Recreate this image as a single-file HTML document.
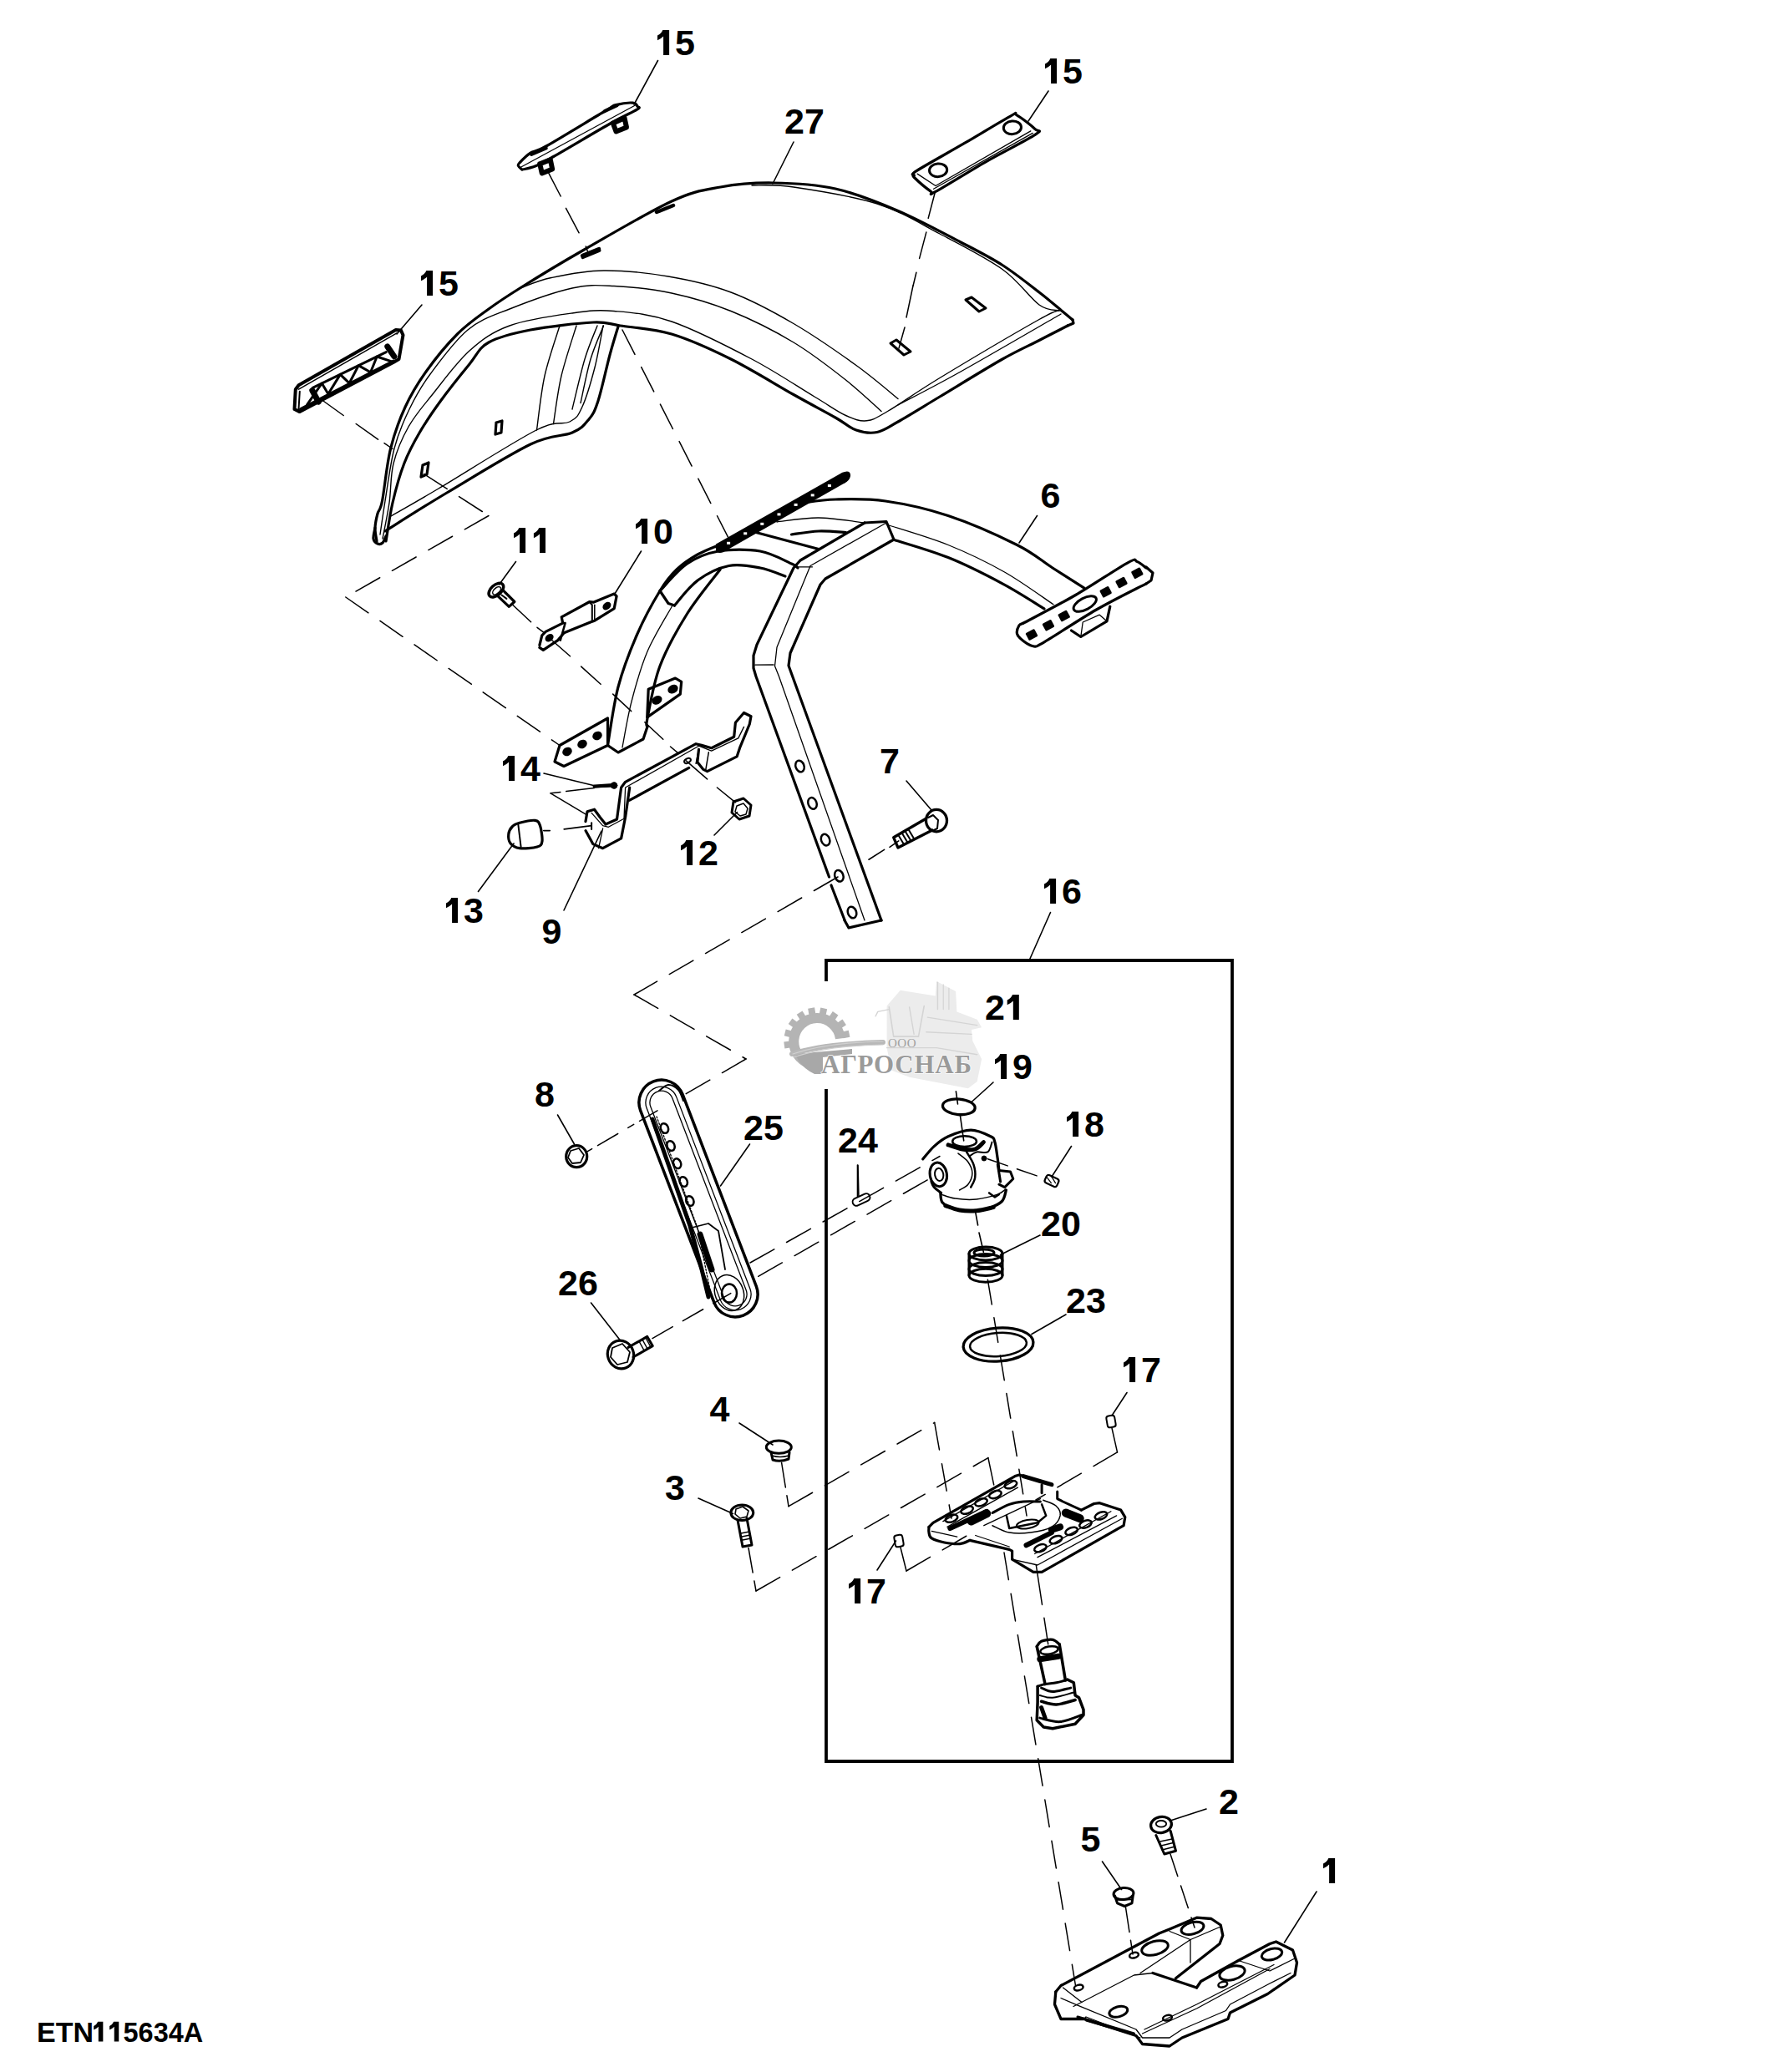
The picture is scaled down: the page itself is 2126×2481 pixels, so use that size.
<!DOCTYPE html>
<html><head><meta charset="utf-8">
<style>
html,body{margin:0;padding:0;background:#fff;}
body{width:2126px;height:2481px;overflow:hidden;position:relative;}
svg{position:absolute;left:0;top:0;}
.lb text{font-family:"Liberation Sans",sans-serif;font-weight:bold;font-size:43px;fill:#000;}
</style></head><body>
<svg width="2126" height="2481" viewBox="0 0 2126 2481">
<g fill="none" stroke="#000" stroke-linecap="round" stroke-linejoin="round">
<path d="M989 1173 V1150 H1475 V2109 H989 V1306" stroke-width="3.8" stroke-linecap="square" stroke-linejoin="miter"/>
<path d="M787.5 72.5 L759 125" stroke-width="1.6"/>
<path d="M950 170 L925 220" stroke-width="1.6"/>
<path d="M505 365 L475 400" stroke-width="1.6"/>
<path d="M617.5 672.5 L597.5 700" stroke-width="1.6"/>
<path d="M767.5 660 L735 712.5" stroke-width="1.6"/>
<path d="M1255 109 L1231 145" stroke-width="1.6"/>
<path d="M1241.5 617.5 L1220 650" stroke-width="1.6"/>
<path d="M651 926 L712.5 941" stroke-width="1.6"/>
<path d="M1085 935 L1115 970" stroke-width="1.6"/>
<path d="M855 1000 L882.5 972.5" stroke-width="1.6"/>
<path d="M572.5 1067.5 L615 1010" stroke-width="1.6"/>
<path d="M675 1090 L720 995" stroke-width="1.6"/>
<path d="M897.5 1370 L862.5 1420" stroke-width="1.6"/>
<path d="M667.5 1335 L687.5 1370" stroke-width="1.6"/>
<path d="M1257.5 1092.5 L1232.5 1149" stroke-width="1.6"/>
<path d="M1189 1296 L1162.5 1320" stroke-width="1.6"/>
<path d="M1282.5 1372.5 L1259 1409" stroke-width="1.6"/>
<path d="M1026.5 1395 L1026.5 1432.5" stroke-width="1.6"/>
<path d="M1245 1479 L1197.5 1502.5" stroke-width="1.6"/>
<path d="M1276 1574 L1235 1597.5" stroke-width="1.6"/>
<path d="M1349 1667.5 L1331 1695" stroke-width="1.6"/>
<path d="M1050 1880 L1072.5 1845" stroke-width="1.6"/>
<path d="M707.5 1560 L742.5 1605" stroke-width="1.6"/>
<path d="M885 1704 L925 1730" stroke-width="1.6"/>
<path d="M836 1794 L877.5 1812.5" stroke-width="1.6"/>
<path d="M1444 2166 L1401 2180" stroke-width="1.6"/>
<path d="M1319.5 2229 L1342.5 2262.5" stroke-width="1.6"/>
<path d="M1576 2265 L1537.5 2326" stroke-width="1.6"/>
<path d="M451 648 C450.7 645.3 448.8 637.5 449 632 C449.2 626.5 450.6 620.3 452 615 C453.4 609.7 454.9 612.9 457.5 600 C460.1 587.1 462.9 556.2 467.5 537.5 C472.1 518.8 477.9 502.9 485 487.5 C492.1 472.1 499.6 459.6 510 445 C520.4 430.4 535 412.5 547.5 400 C560 387.5 572.5 379.2 585 370 C597.5 360.8 603.8 356.7 622.5 345 C641.2 333.3 667.2 317.3 697.5 300 C727.8 282.7 776.5 253.7 804 241 C831.5 228.3 842.3 227.7 862.5 224 C882.7 220.3 902.1 218.7 925 219 C947.9 219.3 975 220.4 1000 226 C1025 231.6 1050 241.8 1075 252.5 C1100 263.2 1129.2 279.2 1150 290 C1170.8 300.8 1184.3 307.5 1200 317.5 C1215.7 327.5 1232 340.8 1244 350 C1256 359.2 1265.3 367.5 1272 373 C1278.7 378.5 1282 381.3 1284 383" stroke-width="3.2"/>
<path d="M1284 383 L1285 387 L1278 390" stroke-width="3.2"/>
<path d="M462 648 C463.3 640.3 466.4 617.5 470 602 C473.6 586.5 478.3 569.1 483.8 555 C489.2 540.9 495.2 530 502.5 517.5 C509.8 505 517.6 493.6 527.5 480 C537.4 466.4 552.4 447.7 562 436 C571.6 424.3 572.8 416.8 585 410 C597.2 403.2 614.2 399 635 395 C655.8 391 692.1 386.8 710 386 C727.9 385.2 726.8 387.7 742.5 390 C758.2 392.3 781.9 393.3 804 400 C826.1 406.7 850.7 417.9 875 430 C899.3 442.1 929.2 460.8 950 472.5 C970.8 484.2 987.5 492.9 1000 500 C1012.5 507.1 1016.7 512.1 1025 515 C1033.3 517.9 1041.7 519.2 1050 517.5 C1058.3 515.8 1062.5 512.1 1075 505 C1087.5 497.9 1104.2 487.5 1125 475 C1145.8 462.5 1180.2 441.2 1200 430 C1219.8 418.8 1231 414.2 1244 407.5 C1257 400.8 1272.3 392.9 1278 390" stroke-width="3.2"/>
<path d="M449 632 C448.7 634.2 446.5 641.8 447 645 C447.5 648.2 450.2 650.2 452 651 C453.8 651.8 456.3 651.5 458 650 C459.7 648.5 461.3 643.3 462 642" stroke-width="3.2"/>
<path d="M622.5 345 C628.8 342.9 643.3 336 660 332.5 C676.7 329 699.2 324.2 722.5 324 C745.8 323.8 774.6 326.7 800 331 C825.4 335.3 850 340.6 875 350 C900 359.4 925 372.9 950 387.5 C975 402.1 1004.2 422.5 1025 437.5 C1045.8 452.5 1066.7 470.8 1075 477.5" stroke-width="1.4"/>
<path d="M455 640 C456 633.3 458.2 617.2 461 600 C463.8 582.8 467.2 555.3 472 537 C476.8 518.7 482.8 504.8 490 490 C497.2 475.2 503.3 463.8 515 448 C526.7 432.2 544.2 408 560 395 C575.8 382 589.2 378.3 610 370 C630.8 361.7 664.2 349.6 685 345 C705.8 340.4 715.2 341.5 735 342.5 C754.8 343.5 780.7 346 804 351 C827.3 356 850.7 362.7 875 372.5 C899.3 382.3 927.1 396.2 950 410 C972.9 423.8 995 441.2 1012.5 455 C1030 468.8 1047.9 486.2 1055 492.5" stroke-width="1.4"/>
<path d="M458 645 C459.3 637.8 463.8 617 466 602 C468.2 587 467.2 570.2 471 555 C474.8 539.8 481.2 524.8 489 511 C496.8 497.2 505.3 487.7 517.5 472.5 C529.7 457.3 546.6 433.8 562 420 C577.4 406.2 589.5 397.5 610 390 C630.5 382.5 664.2 377.9 685 375 C705.8 372.1 715.2 370.8 735 372.5 C754.8 374.2 776.5 375.4 804 385 C831.5 394.6 871.5 415 900 430 C928.5 445 956.2 463.8 975 475 C993.8 486.2 1002.1 492.7 1012.5 497.5 C1022.9 502.3 1029.2 504.6 1037.5 503.8 C1045.8 502.9 1047.9 501 1062.5 492.5 C1077.1 484 1094.8 470.8 1125 452.5 C1155.2 434.2 1219.8 396.1 1244 382.5 C1268.2 368.9 1265.7 372.9 1270 371" stroke-width="1.4"/>
<path d="M900 222 C908.3 222.3 925 220.3 950 224 C975 227.7 1020.8 234.7 1050 244 C1079.2 253.3 1100 266.9 1125 280 C1150 293.1 1180.2 308.3 1200 322.5 C1219.8 336.7 1232.7 356.8 1244 365 C1255.3 373.2 1264 370.8 1268 372" stroke-width="1.4"/>
<path d="M1270 376 C1250 387.5 1182.5 426.8 1150 445 C1117.5 463.2 1087.5 478.3 1075 485" stroke-width="1.4"/>
<path d="M461 636 C473.3 628.3 506 607.3 535 590 C564 572.7 610 544 635 532 C660 520 673.3 523 685 518 C696.7 513 699.8 508.3 705 502 C710.2 495.7 711.8 492.8 716 480 C720.2 467.2 726 439.8 730 425 C734 410.2 738.3 396.7 740 391" stroke-width="3.2"/>
<path d="M468 618 C477.5 612.5 496 602.2 525 585 C554 567.8 615.8 528.3 642 515 C668.2 501.7 672.8 509.7 682 505 C691.2 500.3 692 497.8 697 487 C702 476.2 707.8 456.2 712 440 C716.2 423.8 720.3 398.3 722 390" stroke-width="1.4"/>
<path d="M642.5 515 C644.1 504.2 647.4 470.8 652 450 C656.6 429.2 667 400 670 390" stroke-width="1.4"/>
<path d="M662.5 507.5 C664.1 497.9 667.4 469.6 672 450 C676.6 430.4 687 400 690 390" stroke-width="1.4"/>
<path d="M685 490 C687.5 480 695 446.7 700 430 C705 413.3 712.5 396.7 715 390" stroke-width="1.4"/>
<path d="M695 482.5 C697 473.8 702.4 445.4 707 430 C711.6 414.6 719.9 396.7 722.5 390" stroke-width="1.4"/>
<path d="M594 506 L601 504 L600 518 L593 520 L594 506" stroke-width="3.2"/>
<path d="M506 557 L513 554 L511 568 L504 571 L506 557" stroke-width="3.2"/>
<path d="M1066 411 L1073 407 L1090 421 L1082 425 L1066 411" stroke-width="3"/>
<path d="M1156 359 L1163 356 L1180 369 L1172 373 L1156 359" stroke-width="3"/>
<path d="M697 306 L717 298" stroke-width="4.5"/>
<path d="M786 254 L806 246" stroke-width="4.5"/>
<path d="M625 203.1 C624.3 202.4 621.1 200.1 620.6 198.8 C620.1 197.4 619.5 197.6 621.9 195 C624.3 192.4 629.7 186.5 635 183.1 C640.3 179.8 638.8 183.4 653.8 175 C668.8 166.6 711 140.7 725 132.5 C739 124.3 732.1 127.2 737.5 125.6 C742.9 124.1 753.2 122.8 757.5 123.1 C761.8 123.4 762.3 126.1 763.1 127.5 C764 128.9 767.8 127.9 762.5 131.2 C757.2 134.6 747.9 138.1 731.2 147.5 C714.6 156.9 677.5 179 662.5 187.5 C647.5 196 647.5 196.1 641.2 198.8 C635 201.4 627.7 202.4 625 203.1" stroke-width="3.2"/>
<path d="M623.8 200 L760 126.2" stroke-width="1.3"/>
<path d="M636.2 185 L653.8 177.5" stroke-width="4"/>
<path d="M723.8 133.1 L738.8 126.2" stroke-width="4"/>
<path d="M646.2 196.2 L658.8 191.2 L661.2 202.5 L648.8 207.5 L646.2 196.2" stroke-width="6"/>
<path d="M733.8 147.5 L747.5 141.2 L750 152.5 L737.5 157.5 L733.8 147.5" stroke-width="6"/>
<path d="M656.2 206.2 L671.2 235" stroke-width="1.5"/>
<path d="M677.5 249.4 L693.1 278.8" stroke-width="1.5"/>
<path d="M701.2 295 L705 305" stroke-width="1.5"/>
<path d="M697.5 308.1 L717.5 300" stroke-width="4"/>
<path d="M1094.4 210 C1094.9 209.1 1087.4 210.8 1097.5 204.4 C1107.6 197.9 1136.2 182.2 1155 171.2 C1173.8 160.3 1199.6 144.3 1210 138.8 C1220.4 133.2 1212.7 135.5 1217.5 138.1 C1222.3 140.7 1235.1 150.5 1238.8 154.4 C1242.4 158.2 1249.2 154.7 1239.4 161.2 C1229.6 167.8 1199.9 182.4 1180 193.8 C1160.1 205.1 1131 223.5 1120 229.4 C1109 235.2 1118 231.6 1113.8 228.8 C1109.5 225.9 1097.6 215.6 1094.4 212.5 C1091.1 209.4 1094.4 210.4 1094.4 210" stroke-width="3.2"/>
<path d="M1098.1 208.1 L1120 222.5 L1233.8 156.9" stroke-width="1.3"/>
<path d="M1117.5 226.2 L1236.2 159.4" stroke-width="1.3"/>
<ellipse cx="1123.1" cy="203.8" rx="10.6" ry="7.8" transform="rotate(-5 1123.1 203.8)" stroke-width="3"/>
<ellipse cx="1211.9" cy="152.8" rx="10.6" ry="7.8" transform="rotate(-5 1211.9 152.8)" stroke-width="3"/>
<path d="M1119.4 230 L1111.2 261.2" stroke-width="1.5"/>
<path d="M1108.8 278.1 L1100.6 309.4" stroke-width="1.5"/>
<path d="M1096.9 326.2 L1093.1 342" stroke-width="1.5"/>
<path d="M1093 342 L1085 380" stroke-width="1.5"/>
<path d="M1083 392 L1076 417" stroke-width="1.5"/>
<path d="M353.8 466.2 L357.5 461.2 L473.8 395 L480 395.6 L482.5 401.2 L477.5 430 L471.2 433.8 L358.8 493.1 L352.5 490 L353.8 466.2" stroke-width="4"/>
<path d="M357.5 466.2 L475 398.8" stroke-width="1.5"/>
<path d="M358.8 468.8 L357.5 490" stroke-width="2"/>
<path d="M360 490 L471.2 432.5" stroke-width="4"/>
<path d="M367.6 484.7 L385.3 459 L392.9 471.8 L407.3 448.4 L418.2 458.8 L429.2 437.6 L443.6 445.8 L451.2 427 L468.9 432.9" stroke-width="3"/>
<path d="M374.3 464.4 L462.2 421.6" stroke-width="3"/>
<path d="M373.8 467.5 L381.2 481.2" stroke-width="7"/>
<path d="M463.8 415 L471.9 426.9" stroke-width="7"/>
<path d="M386.9 480 L411.2 497.5" stroke-width="1.5"/>
<path d="M426.2 507.5 L452.5 526.2" stroke-width="1.5"/>
<path d="M460 530.6 L470 537.5" stroke-width="1.5"/>
<path d="M858 652 L1008 567 Q1018 563 1017 570 Q1016 575 1010 578 L866 660 Q856 664 858 652 Z" fill="#000" stroke-width="2"/>
<rect x="870.1" y="648.8" width="4" height="3" fill="#fff" stroke="none"/>
<rect x="890.2" y="637.3" width="4" height="3" fill="#fff" stroke="none"/>
<rect x="910.3" y="625.8" width="4" height="3" fill="#fff" stroke="none"/>
<rect x="930.5" y="614.4" width="4" height="3" fill="#fff" stroke="none"/>
<rect x="950.6" y="602.9" width="4" height="3" fill="#fff" stroke="none"/>
<rect x="970.7" y="591.4" width="4" height="3" fill="#fff" stroke="none"/>
<rect x="990.9" y="580.0" width="4" height="3" fill="#fff" stroke="none"/>
<path d="M957.5 602.5 C964.6 601.8 982.9 598.4 1000 598 C1017.1 597.6 1037.5 596.8 1060 600 C1082.5 603.2 1108.8 608.8 1135 617.5 C1161.2 626.2 1196.7 642.1 1217.5 652.5 C1238.3 662.9 1246.7 671.5 1260 680 C1273.3 688.5 1291.2 699.8 1297.5 703.8" stroke-width="3.2"/>
<path d="M1070 646.2 C1080.8 649.8 1113.3 658.8 1135 667.5 C1156.7 676.2 1180.8 688.5 1200 698.8 C1219.2 709 1241.7 723.8 1250 728.8" stroke-width="3.2"/>
<path d="M1061 628 C1073.3 632.1 1111.4 643 1135 652.5 C1158.6 662 1181.5 673.1 1202.5 685 C1223.5 696.9 1251.2 717.3 1261 723.8" stroke-width="1.3"/>
<path d="M1035 626 L1061 624.5 L1070 646" stroke-width="3.2"/>
<path d="M1035 626 L958 671 L950 680 L906 772 L902 785 L902 800 L905 810 L992.5 1050" stroke-width="3.2"/>
<path d="M995 1060 L1011.2 1102" stroke-width="3.2"/>
<path d="M1070 646 L988 693 L982 700 L946 782 L944 797 L948 808 L1055 1102" stroke-width="3.2"/>
<path d="M1061 626 L970 677.5 L930 775 L927.5 797.5 L932.5 810 L1035 1102" stroke-width="1.3"/>
<path d="M952.5 678.8 L972.5 678.8" stroke-width="1.3"/>
<path d="M903.8 796.2 L926 796" stroke-width="1.3"/>
<path d="M1011 1102 L1016 1111 L1055 1102" stroke-width="3.2"/>
<ellipse cx="957.5" cy="917.5" rx="5" ry="7" transform="rotate(-20 957.5 917.5)" stroke-width="2.5"/>
<ellipse cx="972.5" cy="961.9" rx="5" ry="7" transform="rotate(-20 972.5 961.9)" stroke-width="2.5"/>
<ellipse cx="988.1" cy="1005.6" rx="5" ry="7" transform="rotate(-20 988.1 1005.6)" stroke-width="2.5"/>
<ellipse cx="1004.4" cy="1048.75" rx="5" ry="7" transform="rotate(-20 1004.4 1048.75)" stroke-width="2.5"/>
<ellipse cx="1020" cy="1092.5" rx="5" ry="7" transform="rotate(-20 1020 1092.5)" stroke-width="2.5"/>
<path d="M790 707.5 C795.4 702.1 810.8 682.9 822.5 675 C834.2 667.1 845.4 662.5 860 660 C874.6 657.5 895.4 657.5 910 660 C924.6 662.5 940 671.7 947.5 675 C955 678.3 953.8 679.2 955 680" stroke-width="3.2"/>
<path d="M807.5 725 C812.1 720 824.2 702.9 835 695 C845.8 687.1 860 680 872.5 677.5 C885 675 898.8 677.9 910 680 C921.2 682.1 935 688.3 940 690" stroke-width="3.2"/>
<path d="M790 707.5 L800 722.5 L807.5 725" stroke-width="3.2"/>
<path d="M818 712 C822.5 708 837.2 693.3 845 688 C852.8 682.7 861.7 681.3 865 680" stroke-width="1.3"/>
<path d="M905 637.5 L980 657.5" stroke-width="3.2"/>
<path d="M947.5 640 C952.9 639.3 969.2 636.4 980 636 C990.8 635.6 1007.1 637.2 1012.5 637.5" stroke-width="3.2"/>
<path d="M930 625 C938.3 624.2 962.5 619.8 980 620 C997.5 620.2 1025.8 625 1035 626" stroke-width="1.3"/>
<path d="M862 652 C857.5 654 843.7 659 835 664 C826.3 669 817.5 674.8 810 682 C802.5 689.2 797.9 694.5 790 707.5 C782.1 720.5 770.8 740.8 762.5 760 C754.2 779.2 745.8 800.4 740 822.5 C734.2 844.6 729.6 880.8 727.5 892.5" stroke-width="3.2"/>
<path d="M727.5 892.5 L740 901 L770 885 L775 870" stroke-width="3.2"/>
<path d="M862 682 C855.4 690.8 834.5 715.8 822.5 735 C810.5 754.2 797.9 776.7 790 797.5 C782.1 818.3 777.5 847.9 775 860 C772.5 872.1 775 868.3 775 870" stroke-width="3.2"/>
<path d="M805 725 C800 734.2 783.2 760.8 775 780 C766.8 799.2 761 820.8 756 840 C751 859.2 746.8 885.8 745 895" stroke-width="1.3"/>
<path d="M670 892.5 L727.5 860 L727.5 892.5 L675 917.5 L664 912 L670 892.5" stroke-width="3.2"/>
<ellipse cx="679" cy="900" rx="4.5" ry="3.5" transform="rotate(-28 679 900)" stroke-width="3" fill="#000"/>
<ellipse cx="697" cy="891" rx="4.5" ry="3.5" transform="rotate(-28 697 891)" stroke-width="3" fill="#000"/>
<ellipse cx="715" cy="881" rx="4.5" ry="3.5" transform="rotate(-28 715 881)" stroke-width="3" fill="#000"/>
<path d="M774.7 858.9 L776.2 825.2 L808.4 812 L815.7 816.4 L814.3 831.1 L774.7 858.9" stroke-width="3.2"/>
<ellipse cx="805.5" cy="825.2" rx="5" ry="3.5" transform="rotate(-28 805.5 825.2)" stroke-width="3" fill="#000"/>
<ellipse cx="786.4" cy="838.4" rx="5" ry="3.5" transform="rotate(-28 786.4 838.4)" stroke-width="3" fill="#000"/>
<path d="M1225 746.2 C1235.4 740.6 1266.7 724.6 1287.5 712.5 C1308.3 700.4 1337.7 680.4 1350 673.8 C1362.3 667.1 1357.6 671.5 1361.2 672.5 C1364.9 673.5 1370.2 678.8 1372 680" stroke-width="3.2"/>
<path d="M1372 698.8 C1362.1 704 1332.8 718.3 1312.5 730 C1292.2 741.7 1262.5 761.5 1250 768.8 C1237.5 776 1241.7 774 1237.5 773.8 C1233.3 773.5 1228.3 770 1225 767.5 C1221.7 765 1218.3 761.9 1217.5 758.8 C1216.7 755.6 1218.8 750.8 1220 748.8 C1221.2 746.7 1224.2 746.7 1225 746.2" stroke-width="3.2"/>
<path d="M1372 679 L1380 686 L1378 695 L1372 699" stroke-width="3.2"/>
<rect x="1230.5" y="756.5" width="9" height="7" transform="rotate(-28 1235.0 760.0)" stroke-width="3" fill="#000"/>
<rect x="1250.5" y="745.2" width="9" height="7" transform="rotate(-28 1255.0 748.8)" stroke-width="3" fill="#000"/>
<rect x="1269.2" y="734.0" width="9" height="7" transform="rotate(-28 1273.8 737.5)" stroke-width="3" fill="#000"/>
<rect x="1319.2" y="705.2" width="9" height="7" transform="rotate(-28 1323.8 708.8)" stroke-width="3" fill="#000"/>
<rect x="1338.0" y="694.0" width="9" height="7" transform="rotate(-28 1342.5 697.5)" stroke-width="3" fill="#000"/>
<rect x="1356.8" y="682.8" width="9" height="7" transform="rotate(-28 1361.2 686.2)" stroke-width="3" fill="#000"/>
<ellipse cx="1298.75" cy="723" rx="15" ry="7" transform="rotate(-28 1298.75 723)" stroke-width="3"/>
<path d="M1282.5 755 L1293.8 762.5 L1325 743.8 L1328.8 726.2" stroke-width="3.2"/>
<path d="M1293.8 762.5 L1296.2 745 L1316.2 736.2 L1325 743.8" stroke-width="1.3"/>
<ellipse cx="593.9" cy="706.6" rx="10.5" ry="6.1" transform="rotate(-42 593.9 706.6)" stroke-width="3.5"/>
<ellipse cx="594.6" cy="707.3" rx="5.9" ry="3.2" transform="rotate(-42 594.6 707.3)" stroke-width="1.5"/>
<path d="M596.1 713.9 L609.3 726.4 L615.9 720.5 L602 706.6" stroke-width="3.2"/>
<path d="M600.5 712.5 L606.4 716.9" stroke-width="2"/>
<path d="M604.2 709.5 L610 713.9" stroke-width="2"/>
<path d="M613.7 724.2 L635.6 744.7" stroke-width="1.5"/>
<path d="M643 751.3 L651.7 757.8" stroke-width="1.5"/>
<path d="M645.9 772.5 L648.8 760.8 L653.2 756.4 L673.7 746.1 L672.2 738.8 L705.9 720.5 L710.3 721.2 L735.2 711 L738.1 713.9 L735.2 728.6 L711.8 743.2 L707.4 744.7 L675.2 757.8 L667.8 766.6 L650.3 778.3 L645.9 775.4" stroke-width="3.2"/>
<path d="M673.7 746.1 L676.6 746.1 L670.8 766.6" stroke-width="2.5"/>
<path d="M705.9 721.2 L708.8 724.2 L708.8 743.2" stroke-width="2"/>
<path d="M711.8 724.2 L711.8 743.2" stroke-width="1.5"/>
<ellipse cx="657.6" cy="763.7" rx="4.5" ry="3.2" transform="rotate(-40 657.6 763.7)" stroke-width="2" fill="#000"/>
<ellipse cx="726.4" cy="725.6" rx="4.5" ry="3.2" transform="rotate(-40 726.4 725.6)" stroke-width="2" fill="#000"/>
<path d="M659.1 765.2 L682.5 785.7" stroke-width="1.5"/>
<path d="M695.7 798.1 L719.1 819.3" stroke-width="1.5"/>
<path d="M733.7 831.1 L755.7 851.6" stroke-width="1.5"/>
<path d="M771.8 864.7 L793.8 885.2" stroke-width="1.5"/>
<path d="M802.5 894 L811.3 901.3" stroke-width="1.5"/>
<path d="M701 983.6 L703 971.8 L711.5 969.2 L718.2 978.5 L725 987 L738.5 981 L743.6 943 L748.6 936.3 L833.1 890.7 L839.9 892.4 L851.7 895.7 L878.7 882.2 L880.4 865.3 L890.5 853.5 L899 857.7 L897.3 867 L885.5 895.7 L882.1 905.9 L846.6 923.6 L841.6 921.1 L834.8 912.6 L836.5 897.4" stroke-width="3.2"/>
<path d="M701 994.6 L709.8 1010.6 L721.6 1015.7 L743.6 1003.9 L748.6 978.5 L753.7 943" stroke-width="3.2"/>
<path d="M753.7 958.2 L824.7 919.4" stroke-width="3.2"/>
<path d="M708.1 973.4 L721.6 988.6 L728.4 990.3 L747 980.2 L748.6 943 L836.5 893.2 L851.7 899.1 L883.8 883.9 L890.5 870.4" stroke-width="1.3"/>
<path d="M836.5 897.4 L833.1 914.3" stroke-width="1.5"/>
<path d="M848.3 900.8 L844.9 921.1" stroke-width="1.5"/>
<ellipse cx="823" cy="910.9" rx="4.2" ry="2.5" transform="rotate(-30 823 910.9)" stroke-width="2"/>
<path d="M721.6 992 L716.6 1015.7" stroke-width="1.3"/>
<path d="M622 985.3 C626.5 984.1 636.5 981.8 640.5 982.4 C644.6 983 645 984.5 646.5 988.6 C647.9 992.8 649.5 1003 649 1007.2 C648.4 1011.5 647.6 1012.6 643.1 1014 C638.6 1015.4 627.3 1016.4 622 1015.7 C616.6 1015 613.2 1012.6 611 1009.8 C608.8 1006.9 608.4 1002.2 608.8 998.8 C609.2 995.4 611.3 991.7 613.5 989.5 C615.7 987.2 617.5 986.5 622 985.3 Z" stroke-width="3.2"/>
<path d="M620.3 987 L623.6 1014" stroke-width="2"/>
<path d="M650.7 994.6 L658.3 994.6" stroke-width="1.6"/>
<path d="M675.2 992.9 L708.1 988.6" stroke-width="1.6"/>
<path d="M708.1 985.3 L708.1 992.9" stroke-width="2"/>
<circle cx="735" cy="940.5" r="3.8" fill="#000" stroke-width="1"/>
<path d="M711.5 941.4 L733.4 940" stroke-width="4"/>
<path d="M711.5 943 L733.4 942" stroke-width="1"/>
<path d="M659.1 949.8 L670.9 948.4" stroke-width="1.5"/>
<path d="M677.7 947.6 L711.5 943.4" stroke-width="1.5"/>
<path d="M659.1 949.8 L701.4 975.1" stroke-width="1.5"/>
<path d="M878 960 L890 956 L899 964 L897 977 L885 981 L876 973 Z" stroke-width="3"/>
<path d="M882 965 L890 962 L895 968 L893 975 L886 977 L880 972 Z" stroke-width="1.5"/>
<path d="M821.3 910.9 L846.6 932.9" stroke-width="1.5"/>
<path d="M858.4 943 L880.4 960.8" stroke-width="1.5"/>
<path d="M507.5 567.5 L585 617.5" stroke-width="1.5" stroke-dasharray="33 17"/>
<path d="M585 617.5 L413.8 715" stroke-width="1.5" stroke-dasharray="33 17"/>
<path d="M413.8 715 L670 892.5" stroke-width="1.5" stroke-dasharray="33 17"/>
<path d="M745 395 L875 650" stroke-width="1.5" stroke-dasharray="33 17"/>
<path d="M1003 1050 L759 1191" stroke-width="1.5" stroke-dasharray="33 17"/>
<path d="M759 1191 L893 1268" stroke-width="1.5" stroke-dasharray="33 17"/>
<path d="M893 1268 L819 1311" stroke-width="1.5" stroke-dasharray="33 17"/>
<path d="M1040 1029.2 L1058.6 1017.4" stroke-width="1.6"/>
<path d="M1065 1014.3 L1075.8 1006.9" stroke-width="1.6"/>
<path d="M701.7 1379.7 L787 1329.8" stroke-width="1.5" stroke-dasharray="8 8 28 14"/>
<path d="M898 1512 L1125 1384.5" stroke-width="1.5" stroke-dasharray="33 17"/>
<path d="M907.7 1528.3 L1123 1405.6" stroke-width="1.5" stroke-dasharray="33 17"/>
<path d="M781 1602.7 L874.8 1548.6" stroke-width="1.5" stroke-dasharray="28 14"/>
<path d="M1144.4 1306.8 L1146.5 1322" stroke-width="1.6"/>
<path d="M1149.5 1336.3 L1153.7 1365.9" stroke-width="1.6"/>
<path d="M1167.2 1448.6 L1170.6 1467" stroke-width="1.6"/>
<path d="M1172 1476 L1177.4 1499.3" stroke-width="1.6"/>
<path d="M1182.4 1532.3 L1229 1815" stroke-width="1.5" stroke-dasharray="30 16"/>
<path d="M1202 1859 L1287.5 2377.5" stroke-width="1.5" stroke-dasharray="33 17"/>
<path d="M1240.3 1874 L1254.7 1968.8" stroke-width="1.5" stroke-dasharray="48 16"/>
<path d="M1182.4 1387.8 L1251.7 1411.5" stroke-width="1.5" stroke-dasharray="25 12"/>
<path d="M935.6 1751.3 L944 1803.7" stroke-width="1.5" stroke-dasharray="30 10"/>
<path d="M944 1803.7 L1118.7 1703.4" stroke-width="1.5" stroke-dasharray="33 17"/>
<path d="M1118.7 1703.4 L1139 1818" stroke-width="1.5" stroke-dasharray="33 17"/>
<path d="M896 1853.5 L905 1905" stroke-width="1.5" stroke-dasharray="30 10"/>
<path d="M905 1905 L1182.9 1745.6" stroke-width="1.5" stroke-dasharray="33 17"/>
<path d="M1182.9 1745.6 L1191.4 1786" stroke-width="1.5" stroke-dasharray="33 17"/>
<path d="M1331 1710 L1337.5 1738.9" stroke-width="1.5" stroke-dasharray="30 8"/>
<path d="M1337.5 1738.9 L1240 1796" stroke-width="1.5" stroke-dasharray="33 17"/>
<path d="M1078 1853 L1085 1881" stroke-width="1.5" stroke-dasharray="30 8"/>
<path d="M1085 1881 L1164 1835" stroke-width="1.5" stroke-dasharray="33 17"/>
<path d="M1401 2220 L1430 2308" stroke-width="1.5" stroke-dasharray="28 12"/>
<path d="M1347.5 2283.8 L1356 2340" stroke-width="1.5" stroke-dasharray="30 10"/>
<ellipse cx="1147.8" cy="1325.3" rx="19.4" ry="9.3" transform="rotate(5 1147.8 1325.3)" stroke-width="3.3"/>
<path d="M1104.7 1387.8 C1107 1385.3 1113.2 1377.1 1118.2 1372.6 C1123.3 1368.1 1127.8 1364 1135.1 1360.8 C1142.5 1357.6 1153.7 1353.2 1162.2 1353.2 C1170.6 1353.2 1181 1358.4 1185.8 1360.8 C1190.6 1363.2 1189.5 1363.1 1190.9 1367.6 C1192.3 1372.1 1193.4 1382.2 1194.3 1387.8 C1195.1 1393.5 1195.7 1399.1 1195.9 1401.4" stroke-width="3.2"/>
<path d="M1114.9 1414.9 C1115.4 1416 1116.3 1419.4 1118.2 1421.6 C1120.2 1423.9 1125.3 1427.3 1126.7 1428.4" stroke-width="3"/>
<path d="M1125.8 1428.4 C1126.3 1430.3 1125.4 1437 1128.4 1440.2 C1131.3 1443.4 1138.2 1446.2 1143.6 1447.8 C1148.9 1449.4 1154 1450.1 1160.5 1450 C1166.9 1449.9 1176 1448.9 1182.4 1447 C1188.9 1445 1195.7 1442.2 1199.3 1438.5 C1203 1434.9 1203.5 1427.3 1204.4 1425" stroke-width="3.3"/>
<path d="M1131.8 1443.6 C1134.6 1444.5 1142.5 1448 1148.6 1449 C1154.8 1450 1162.2 1450.2 1168.9 1449.7 C1175.7 1449.1 1185.8 1446.3 1189.2 1445.6" stroke-width="5"/>
<path d="M1126.7 1430.1 C1129.5 1430.9 1136.5 1434.1 1143.6 1435.1 C1150.6 1436.1 1160.5 1436.8 1168.9 1436 C1177.4 1435.1 1188.5 1432 1194.3 1430.1 C1200 1428.1 1202 1425.1 1203.5 1424.2" stroke-width="1.5"/>
<ellipse cx="1154.6" cy="1366.7" rx="14.4" ry="6.4" transform="rotate(0 1154.6 1366.7)" stroke-width="2.5"/>
<path d="M1135.1 1370.9 C1138 1371.8 1146.7 1375.2 1152 1376 C1157.4 1376.9 1163 1377.4 1167.2 1376 C1171.5 1374.6 1175.7 1369 1177.4 1367.6" stroke-width="5"/>
<ellipse cx="1123.3" cy="1406.4" rx="10.1" ry="14.4" transform="rotate(-10 1123.3 1406.4)" stroke-width="3"/>
<ellipse cx="1124.2" cy="1406.4" rx="5.1" ry="7.6" transform="rotate(-10 1124.2 1406.4)" stroke-width="2"/>
<path d="M1147 1381.1 C1148.9 1382.8 1156 1387.3 1158.8 1391.2 C1161.6 1395.2 1163.9 1400.2 1163.9 1404.7 C1163.9 1409.2 1161.3 1414.9 1158.8 1418.2 C1156.2 1421.6 1150.3 1423.9 1148.6 1425" stroke-width="1.5"/>
<path d="M1157.1 1379.4 C1158.5 1381.9 1163.9 1389.5 1165.5 1394.6 C1167.2 1399.7 1167.8 1405.3 1167.2 1409.8 C1166.7 1414.3 1163 1419.7 1162.2 1421.6" stroke-width="2.5"/>
<path d="M1195.9 1401.4 L1209.5 1403 L1212.8 1411.5 L1202.7 1421.6 L1195.9 1418.2" stroke-width="3"/>
<path d="M1184.1 1428.4 L1190.9 1433.4 L1195.9 1430.1" stroke-width="2.5"/>
<circle cx="1178" cy="1387" r="3" fill="#000" stroke-width="1"/>
<path d="M1160.5 1384.5 C1161.9 1383.6 1165.3 1380.2 1168.9 1379.4 C1172.6 1378.5 1179.3 1381.4 1182.4 1379.4 C1185.5 1377.4 1186.7 1369.5 1187.5 1367.6" stroke-width="2"/>
<path d="M1194.3 1394.6 L1197.6 1414.9" stroke-width="3"/>
<rect x="1020" y="1432" width="22" height="9" rx="4.5" transform="rotate(-25 1031 1436.5)" stroke-width="2"/>
<path d="M1027 1395.4 L1027.9 1431.8" stroke-width="1.6"/>
<rect x="1251" y="1409" width="16" height="10" rx="3" transform="rotate(25 1259 1414)" stroke-width="2.2"/>
<path d="M1253.4 1409.8 L1258.4 1416.6" stroke-width="1.2"/>
<path d="M1258.4 1408.1 L1263.5 1416.6" stroke-width="1.2"/>
<ellipse cx="1180" cy="1501" rx="20" ry="8" stroke-width="3"/>
<ellipse cx="1180" cy="1509.5" rx="20" ry="8" stroke-width="3"/>
<ellipse cx="1180" cy="1519.6" rx="20" ry="8" stroke-width="3"/>
<ellipse cx="1180" cy="1527.2" rx="20" ry="8" stroke-width="3"/>
<path d="M1160 1501 L1160 1527 M1200 1501 L1200 1527" stroke-width="3"/>
<ellipse cx="1178" cy="1500" rx="12" ry="4" stroke-width="3"/>
<ellipse cx="1195" cy="1610" rx="42" ry="20" transform="rotate(-4 1195 1610)" stroke-width="3.3"/>
<ellipse cx="1195" cy="1610" rx="34" ry="14" transform="rotate(-4 1195 1610)" stroke-width="2.5"/>
<rect x="809" y="1285" width="54" height="300" rx="27" transform="rotate(-21 836 1435)" stroke-width="3.5"/>
<rect x="817" y="1293" width="38" height="284" rx="19" transform="rotate(-21 836 1435)" stroke-width="1.3"/>
<rect x="822" y="1298" width="28" height="274" rx="14" transform="rotate(-21 836 1435)" stroke-width="1.3"/>
<path d="M781 1340 L826 1468 L840 1520 L848 1553" stroke-width="5"/>
<path d="M786 1337 L835 1470 L852 1555" stroke-width="1.3" stroke-dasharray="2 2"/>
<ellipse cx="795.4" cy="1351" rx="4.5" ry="6" transform="rotate(-21 795.4 1351)" stroke-width="2.5"/>
<ellipse cx="803" cy="1372" rx="4.5" ry="6" transform="rotate(-21 803 1372)" stroke-width="2.5"/>
<ellipse cx="810.6" cy="1393.2" rx="4.5" ry="6" transform="rotate(-21 810.6 1393.2)" stroke-width="2.5"/>
<ellipse cx="818.2" cy="1415" rx="4.5" ry="6" transform="rotate(-21 818.2 1415)" stroke-width="2.5"/>
<ellipse cx="825.8" cy="1438" rx="4.5" ry="6" transform="rotate(-21 825.8 1438)" stroke-width="2.5"/>
<path d="M838 1478 L852 1520" stroke-width="7"/>
<path d="M828 1470 L848 1465 L860 1474 L868 1520" stroke-width="1.8"/>
<ellipse cx="873" cy="1548.6" rx="9" ry="11" stroke-width="2.5"/>
<ellipse cx="873" cy="1548" rx="17" ry="22" transform="rotate(-21 873 1548)" stroke-width="1.5"/>
<path d="M789 1306 C790.8 1304.8 796.2 1299.2 800 1299 C803.8 1298.8 809 1301.8 812 1305 C815 1308.2 817 1315.8 818 1318" stroke-width="2"/>
<ellipse cx="690.2" cy="1384.7" rx="12.5" ry="13" stroke-width="3.2"/>
<path d="M683 1378 L693 1375 L699 1383 L695 1392 L685 1393 L680 1386 Z" stroke-width="1.8"/>
<ellipse cx="743" cy="1622" rx="15.5" ry="17" transform="rotate(-20 743 1622)" stroke-width="3.2"/>
<path d="M733 1614 L745 1609 L754 1619 L751 1631 L739 1634 L731 1625 Z" stroke-width="1.8"/>
<path d="M752 1613.4 L774.8 1600.4 L781.2 1611.6 L758 1625" stroke-width="3"/>
<path d="M765 1606 L771 1617 M769 1604 L775 1615 M773 1602 L779 1613" stroke-width="1.5"/>
<ellipse cx="932.3" cy="1732.7" rx="15" ry="7.6" stroke-width="3"/>
<path d="M923 1739 L925 1748 Q934 1751 944 1747 L945 1739" stroke-width="3"/>
<path d="M924 1743 Q934 1746 944 1743" stroke-width="1.5"/>
<ellipse cx="888.3" cy="1811.3" rx="13.5" ry="9.3" stroke-width="3"/>
<path d="M881 1807 L889 1804 L896 1809 L894 1816 L886 1818 L880 1813 Z" stroke-width="1.6"/>
<path d="M883 1820 L889 1852 L900 1850 L894 1818" stroke-width="3"/>
<path d="M887 1836 L897 1834 M888 1840 L898 1838 M889 1844 L899 1842" stroke-width="1.3"/>
<rect x="1325" y="1695" width="10" height="14" rx="3" transform="rotate(-10 1330 1702)" stroke-width="2"/>
<rect x="1071" y="1838" width="10" height="14" rx="3" transform="rotate(-10 1076 1845)" stroke-width="2"/>
<path d="M1112 1828.4 L1117 1823.3 L1215 1767.6 L1220.1 1765.9 L1225.1 1767.6" stroke-width="3.2"/>
<path d="M1112 1828.4 C1112 1829.5 1111.4 1832.9 1112 1835.1 C1112.5 1837.4 1112.2 1839.9 1115.3 1841.9 C1118.4 1843.9 1124.9 1845.8 1130.5 1847 C1136.2 1848.1 1144.1 1849.1 1149.1 1848.6 C1154.2 1848.2 1159 1845.1 1160.9 1844.4" stroke-width="3.2"/>
<path d="M1160.9 1844.4 L1208.2 1855.4 L1211.6 1857.1 L1211.6 1867.2 L1237 1882.4 L1247.1 1882.4 L1345.1 1826.7 L1346.8 1816.6 L1341.7 1808.1 L1316.4 1799.7 L1309.6 1800.5 L1294.4 1808.1" stroke-width="3.2"/>
<path d="M1115.3 1833.4 L1145.7 1840.2" stroke-width="1.3"/>
<path d="M1167.7 1838.5 L1208.2 1852" stroke-width="1.3"/>
<path d="M1211.6 1867.2 L1242 1874 L1343.4 1818.2" stroke-width="1.3"/>
<path d="M1128.9 1821.6 L1215 1772.6" stroke-width="1.3"/>
<path d="M1133.9 1828.4 L1218.4 1781.1" stroke-width="1.3"/>
<path d="M1238.6 1860.5 L1329.9 1809.8" stroke-width="1.3"/>
<path d="M1242 1864.7 L1336.6 1814.9" stroke-width="1.3"/>
<path d="M1225.1 1767.6 L1258.9 1777.7" stroke-width="5"/>
<path d="M1247.1 1777.7 L1247.1 1787.8" stroke-width="3"/>
<path d="M1265.7 1786.1 L1265.7 1794.6 L1272.4 1798 L1294.4 1808.1" stroke-width="3"/>
<path d="M1188 1811.5 C1191.4 1809.8 1202 1803.6 1208.2 1801.4 C1214.4 1799.1 1218.9 1798.5 1225.1 1798 C1231.3 1797.4 1242 1798 1245.4 1798" stroke-width="3"/>
<path d="M1188 1826.7 C1191.4 1828.1 1200.6 1833.7 1208.2 1835.1 C1215.8 1836.5 1225.1 1836.3 1233.6 1835.1 C1242 1834 1253 1831.8 1258.9 1828.4 C1264.8 1825 1268.2 1819.1 1269.1 1814.9 C1269.9 1810.6 1267.4 1806.1 1264 1803 C1260.6 1799.9 1251.3 1797.4 1248.8 1796.3" stroke-width="1.5"/>
<path d="M1204.9 1814.9 L1208.2 1830.1 L1242 1823.3 L1252.2 1814.9 L1247.1 1801.4" stroke-width="2.5"/>
<ellipse cx="1230.2" cy="1825" rx="13.5" ry="5.1" transform="rotate(-10 1230.2 1825)" stroke-width="2"/>
<path d="M1177.8 1826.7 L1245.4 1794.6" stroke-width="1.3"/>
<ellipse cx="1139" cy="1818.2" rx="7.6" ry="4.1" transform="rotate(-20 1139 1818.2)" stroke-width="2.5"/>
<ellipse cx="1157.6" cy="1808.1" rx="7.6" ry="4.1" transform="rotate(-20 1157.6 1808.1)" stroke-width="2.5"/>
<ellipse cx="1174.5" cy="1798.8" rx="7.6" ry="4.1" transform="rotate(-20 1174.5 1798.8)" stroke-width="2.5"/>
<ellipse cx="1191.4" cy="1789.5" rx="7.6" ry="4.1" transform="rotate(-20 1191.4 1789.5)" stroke-width="2.5"/>
<ellipse cx="1209.9" cy="1777.7" rx="7.6" ry="4.1" transform="rotate(-20 1209.9 1777.7)" stroke-width="2.5"/>
<ellipse cx="1245.4" cy="1853.7" rx="7.6" ry="4.1" transform="rotate(-20 1245.4 1853.7)" stroke-width="2.5"/>
<ellipse cx="1264" cy="1843.6" rx="7.6" ry="4.1" transform="rotate(-20 1264 1843.6)" stroke-width="2.5"/>
<ellipse cx="1282.6" cy="1833.4" rx="7.6" ry="4.1" transform="rotate(-20 1282.6 1833.4)" stroke-width="2.5"/>
<ellipse cx="1299.5" cy="1825" rx="7.6" ry="4.1" transform="rotate(-20 1299.5 1825)" stroke-width="2.5"/>
<ellipse cx="1318" cy="1814.9" rx="7.6" ry="4.1" transform="rotate(-20 1318 1814.9)" stroke-width="2.5"/>
<path d="M1137.3 1830.1 L1181.2 1809.8" stroke-width="6"/>
<path d="M1162.6 1821.6 L1181.2 1812.3" stroke-width="10"/>
<path d="M1228.5 1850.3 L1258.9 1835.1" stroke-width="6"/>
<path d="M1258.9 1831.8 L1269.1 1828.4" stroke-width="8"/>
<path d="M1275.8 1811.5 L1292.7 1818.2" stroke-width="10"/>
<path d="M1241.2 1971.5 C1242.1 1970.5 1243.4 1966.6 1246.6 1965.2 C1249.7 1963.9 1256.5 1962.8 1260.1 1963.4 C1263.7 1964 1266.8 1967.9 1268.2 1968.8" stroke-width="3.2"/>
<path d="M1241.2 1971.5 L1251.1 2016.6" stroke-width="3.5"/>
<path d="M1268.2 1968.8 L1275.4 2012.1" stroke-width="3.5"/>
<ellipse cx="1256" cy="1976" rx="10.8" ry="4.5" transform="rotate(-10 1256 1976)" stroke-width="2.5"/>
<path d="M1244.8 1986.8 L1267.3 1983.2" stroke-width="7"/>
<path d="M1242.1 2019.3 L1242.1 2038.2 L1241.2 2059.8 L1249.3 2067.9 L1260.1 2069.7 L1287.1 2064.3 L1297 2053.5 L1297 2047.2 L1291.6 2032.8 L1287.1 2030.1 L1285.3 2014.8 L1278.1 2011.2" stroke-width="3.5"/>
<path d="M1242.1 2019.3 C1243.6 2018.8 1247.3 2017.3 1251.1 2016.6 C1254.8 2015.8 1260.1 2015.7 1264.6 2014.8 C1269.1 2013.9 1275.9 2011.8 1278.1 2011.2" stroke-width="3"/>
<path d="M1246.6 2021.1 C1248.8 2021.8 1254.2 2025.6 1260.1 2025.6 C1265.9 2025.6 1278.1 2021.8 1281.7 2021.1" stroke-width="3"/>
<path d="M1246.6 2037.3 C1249.6 2037.9 1257.8 2041.2 1264.6 2040.9 C1271.4 2040.6 1283.4 2036.4 1287.1 2035.5" stroke-width="3.5"/>
<path d="M1244.8 2057.1 C1248.8 2057.9 1260.7 2062.2 1269.1 2061.6 C1277.5 2061 1290.9 2054.9 1295.2 2053.5" stroke-width="3"/>
<path d="M1244.8 2030.1 C1247.3 2030.5 1253.3 2033.4 1260.1 2032.8 C1266.8 2032.2 1281.1 2027.5 1285.3 2026.5" stroke-width="2"/>
<path d="M1246.6 2044.5 L1251.1 2057.1" stroke-width="5"/>
<path d="M1263.8 2385 L1270 2377.5 L1387.5 2315 L1400 2310 L1432.5 2296.2 L1450 2297.5 L1461.2 2305 L1463.8 2317.5 L1460 2327.5 L1407.5 2368.8" stroke-width="3.3"/>
<path d="M1380 2362.5 L1432.5 2380" stroke-width="3.3"/>
<path d="M1432.5 2380 L1437.5 2372.5 L1482.5 2347.5 L1520 2327.5 L1527.5 2325 L1547.5 2335 L1552.5 2350 L1550 2365 L1517.5 2387.5 L1472.5 2410 L1470 2417.5 L1415 2440 L1400 2450 L1367.5 2447.5 L1360 2437.5 L1297.5 2417.5 L1270 2417.5 L1262.5 2400 L1263.8 2385" stroke-width="3.3"/>
<path d="M1270 2392.5 L1290 2401.2 L1360 2430 L1367.5 2440 L1400 2440 L1415 2430 L1467.5 2407.5 L1472.5 2400 L1520 2375 L1545 2362.5" stroke-width="1.3"/>
<path d="M1272.5 2380 L1295 2397.5" stroke-width="1.3"/>
<path d="M1285 2402.5 L1357.5 2365 L1380 2362.5" stroke-width="1.3"/>
<path d="M1365 2362.5 L1425 2322.5 L1425 2350" stroke-width="1.3"/>
<path d="M1400 2312.5 L1425 2322.5 L1460 2307.5" stroke-width="1.3"/>
<path d="M1482.5 2347.5 L1520 2360 L1550 2345" stroke-width="1.3"/>
<path d="M1367.5 2435 L1432.5 2405 L1520 2357.5" stroke-width="1.3"/>
<path d="M1370 2430 L1432.5 2400 L1525 2352.5" stroke-width="1.3"/>
<path d="M1297.5 2417.5 L1300 2415 L1365 2440" stroke-width="1.3"/>
<ellipse cx="1382.5" cy="2332.5" rx="16.2" ry="8" transform="rotate(-15 1382.5 2332.5)" stroke-width="3"/>
<ellipse cx="1427.5" cy="2308.8" rx="13.8" ry="7" transform="rotate(-15 1427.5 2308.8)" stroke-width="3"/>
<ellipse cx="1475" cy="2362.5" rx="15.5" ry="8" transform="rotate(-15 1475 2362.5)" stroke-width="3"/>
<ellipse cx="1522.5" cy="2340" rx="12.5" ry="6.5" transform="rotate(-15 1522.5 2340)" stroke-width="3"/>
<ellipse cx="1357.5" cy="2341.2" rx="5.5" ry="3.2" transform="rotate(-15 1357.5 2341.2)" stroke-width="2.5"/>
<ellipse cx="1291.2" cy="2380" rx="5.5" ry="3.2" transform="rotate(-15 1291.2 2380)" stroke-width="2.5"/>
<ellipse cx="1463.8" cy="2376.2" rx="5.5" ry="3.2" transform="rotate(-15 1463.8 2376.2)" stroke-width="2.5"/>
<ellipse cx="1397.5" cy="2416.2" rx="5.5" ry="3.2" transform="rotate(-15 1397.5 2416.2)" stroke-width="2.5"/>
<ellipse cx="1338.8" cy="2408.8" rx="11.2" ry="6" transform="rotate(-15 1338.8 2408.8)" stroke-width="3"/>
<path d="M1290 2415 L1357.5 2435" stroke-width="3"/>
<path d="M1360 2437.5 L1300 2420" stroke-width="1.3"/>
<ellipse cx="1390" cy="2185" rx="12.5" ry="9.5" transform="rotate(-10 1390 2185)" stroke-width="3.2"/>
<ellipse cx="1390" cy="2183.8" rx="6.2" ry="3.8" transform="rotate(0 1390 2183.8)" stroke-width="1.8"/>
<path d="M1383.8 2197.5 L1393.8 2220 L1407.5 2216.2 L1401.2 2192.5" stroke-width="3"/>
<path d="M1388.8 2205 L1403 2202" stroke-width="1.4"/>
<path d="M1390 2210 L1404.5 2206.5" stroke-width="1.4"/>
<path d="M1391.2 2215 L1406 2211.2" stroke-width="1.4"/>
<ellipse cx="1345" cy="2267.5" rx="12" ry="7" transform="rotate(-5 1345 2267.5)" stroke-width="3"/>
<path d="M1334.5 2270 L1337.5 2278.8 L1346.2 2282.5 L1355 2278.8 L1356.2 2270" stroke-width="3"/>
<path d="M1337 2275 L1355 2274.5" stroke-width="1.6"/>
<g stroke="none">
<path d="M1061.6 1204.6 L1077.8 1185.7 L1119.7 1192.4 L1121.1 1174.9 L1144.1 1187 L1145.4 1211.4 L1169.7 1220.8 L1175.1 1230.3 L1163 1233 L1164.3 1246.5 L1175.1 1268.1 L1169.7 1295.1 L1158.9 1303.2 L1088.6 1289.7 L1067 1281.6 L1061.6 1254.6 L1061.6 1204.6" stroke-width="0" fill="#ececec"/>
</g>
<g stroke="#d4d4d4">
<path d="M1064.3 1205.9 L1069.7 1241.1 L1099.5 1241.1 L1106.2 1204.6" stroke-width="1.6"/>
<path d="M1088.6 1205.9 L1094.1 1238.4" stroke-width="1.4"/>
<path d="M1110.3 1218.1 L1169.7 1227.6" stroke-width="1.4"/>
<path d="M1108.9 1235.7 L1163 1238.4" stroke-width="1.4"/>
<path d="M1061.6 1254.6 L1121.1 1254.6 L1169.7 1262.7" stroke-width="1.4"/>
<path d="M1122.4 1176.2 L1122.4 1208.6" stroke-width="1.4"/>
<path d="M1129.2 1178.9 L1129.2 1208.6" stroke-width="1.2"/>
<path d="M1135.9 1183 L1135.9 1208.6" stroke-width="1.2"/>
<path d="M1048.1 1216.8 L1050.8 1211.4 L1064.3 1208.6" stroke-width="1.4"/>
</g>
<path d="M973 1274.6 A28 28 0 1 1 1006 1243.5" stroke="#b4b4b4" stroke-width="12" stroke-linecap="butt"/>
<g stroke="none" fill="#b4b4b4">
<rect x="938.8" y="1246.9" width="8" height="8" transform="rotate(172 942.8 1250.9)"/>
<rect x="939.6" y="1233.4" width="8" height="8" transform="rotate(194 943.6 1237.4)"/>
<rect x="945.3" y="1221.1" width="8" height="8" transform="rotate(216 949.3 1225.1)"/>
<rect x="955.2" y="1211.9" width="8" height="8" transform="rotate(238 959.2 1215.9)"/>
<rect x="967.8" y="1207.0" width="8" height="8" transform="rotate(260 971.8 1211.0)"/>
<rect x="981.4" y="1207.3" width="8" height="8" transform="rotate(282 985.4 1211.3)"/>
<rect x="993.9" y="1212.6" width="8" height="8" transform="rotate(304 997.9 1216.6)"/>
<rect x="1003.4" y="1222.1" width="8" height="8" transform="rotate(326 1007.4 1226.1)"/>
<rect x="1008.7" y="1234.6" width="8" height="8" transform="rotate(348 1012.7 1238.6)"/>
</g>
<path d="M952 1262 L1020 1256 L1020 1262 L985 1266 L985 1286 L975 1286 Q958 1278 952 1262 Z" fill="#a8a8a8" stroke="none"/>
<path d="M948 1262 Q985 1250 1057 1248" stroke="#b8b8b8" stroke-width="6"/>
<path d="M949 1262 Q990 1248 1057 1247" stroke="#d0d0d0" stroke-width="1.2"/>
<path d="M950 1266 Q990 1252 1057 1251" stroke="#d0d0d0" stroke-width="1.2"/>
<text x="1063" y="1253.5" style="font-family:'Liberation Serif',serif;font-size:15px;fill:#a0a0a0;stroke:none;letter-spacing:0.5px">ООО</text>
<text x="983" y="1284.5" textLength="180" style="font-family:'Liberation Serif',serif;font-size:31px;font-weight:bold;fill:#9a9a9a;stroke:#fff;stroke-width:1.5;paint-order:stroke">АГРОСНАБ</text>
<ellipse cx="1121" cy="982.6" rx="12.5" ry="13.2" stroke-width="3.3"/>
<path d="M1111 979 L1117 976 L1123 982 L1122 992 L1116 995" stroke-width="2"/>
<path d="M1108 980.5 L1069.7 1002.8 L1075 1015 L1116 994" stroke-width="3.3"/>
<path d="M1076 1001 L1082 1011 M1080 998 L1086 1008 M1084 996 L1090 1006 M1088 994 L1094 1004" stroke-width="2"/>
</g>
<g class="lb">
<path d="M794.10 36.00 H801.10 V66.00 H794.10 V43.50 Q791.20 46.50 787.00 48.30 V42.60 Q791.70 40.20 793.30 36.00 Z" fill="#000" stroke="none"/>
<text x="808.11" y="66">5</text>
<path d="M1258.10 70.00 H1265.10 V100.00 H1258.10 V77.50 Q1255.20 80.50 1251.00 82.30 V76.60 Q1255.70 74.20 1257.30 70.00 Z" fill="#000" stroke="none"/>
<text x="1272.11" y="100">5</text>
<text x="939.00" y="160">2</text>
<text x="962.91" y="160">7</text>
<path d="M511.10 324.00 H518.10 V354.00 H511.10 V331.50 Q508.20 334.50 504.00 336.30 V330.60 Q508.70 328.20 510.30 324.00 Z" fill="#000" stroke="none"/>
<text x="525.11" y="354">5</text>
<text x="1245.50" y="608">6</text>
<path d="M622.10 632.00 H629.10 V662.00 H622.10 V639.50 Q619.20 642.50 615.00 644.30 V638.60 Q619.70 636.20 621.30 632.00 Z" fill="#000" stroke="none"/>
<path d="M646.01 632.00 H653.01 V662.00 H646.01 V639.50 Q643.11 642.50 638.91 644.30 V638.60 Q643.61 636.20 645.21 632.00 Z" fill="#000" stroke="none"/>
<path d="M768.10 621.00 H775.10 V651.00 H768.10 V628.50 Q765.20 631.50 761.00 633.30 V627.60 Q765.70 625.20 767.30 621.00 Z" fill="#000" stroke="none"/>
<text x="782.11" y="651">0</text>
<path d="M609.10 905.00 H616.10 V935.00 H609.10 V912.50 Q606.20 915.50 602.00 917.30 V911.60 Q606.70 909.20 608.30 905.00 Z" fill="#000" stroke="none"/>
<text x="623.11" y="935">4</text>
<text x="1053.00" y="926">7</text>
<path d="M822.10 1006.00 H829.10 V1036.00 H822.10 V1013.50 Q819.20 1016.50 815.00 1018.30 V1012.60 Q819.70 1010.20 821.30 1006.00 Z" fill="#000" stroke="none"/>
<text x="836.11" y="1036">2</text>
<path d="M541.10 1075.00 H548.10 V1105.00 H541.10 V1082.50 Q538.20 1085.50 534.00 1087.30 V1081.60 Q538.70 1079.20 540.30 1075.00 Z" fill="#000" stroke="none"/>
<text x="555.11" y="1105">3</text>
<text x="648.50" y="1130">9</text>
<path d="M1257.10 1052.00 H1264.10 V1082.00 H1257.10 V1059.50 Q1254.20 1062.50 1250.00 1064.30 V1058.60 Q1254.70 1056.20 1256.30 1052.00 Z" fill="#000" stroke="none"/>
<text x="1271.11" y="1082">6</text>
<text x="1179.00" y="1221">2</text>
<path d="M1212.81 1191.00 H1219.81 V1221.00 H1212.81 V1198.50 Q1209.91 1201.50 1205.71 1203.30 V1197.60 Q1210.41 1195.20 1212.01 1191.00 Z" fill="#000" stroke="none"/>
<path d="M1198.10 1262.00 H1205.10 V1292.00 H1198.10 V1269.50 Q1195.20 1272.50 1191.00 1274.30 V1268.60 Q1195.70 1266.20 1197.30 1262.00 Z" fill="#000" stroke="none"/>
<text x="1212.11" y="1292">9</text>
<text x="640.00" y="1325">8</text>
<text x="890.00" y="1365">2</text>
<text x="913.91" y="1365">5</text>
<text x="1003.00" y="1380">2</text>
<text x="1026.91" y="1380">4</text>
<path d="M1284.10 1331.00 H1291.10 V1361.00 H1284.10 V1338.50 Q1281.20 1341.50 1277.00 1343.30 V1337.60 Q1281.70 1335.20 1283.30 1331.00 Z" fill="#000" stroke="none"/>
<text x="1298.11" y="1361">8</text>
<text x="1246.00" y="1480">2</text>
<text x="1269.91" y="1480">0</text>
<text x="668.00" y="1551">2</text>
<text x="691.91" y="1551">6</text>
<text x="1276.00" y="1572">2</text>
<text x="1299.91" y="1572">3</text>
<path d="M1352.10 1625.00 H1359.10 V1655.00 H1352.10 V1632.50 Q1349.20 1635.50 1345.00 1637.30 V1631.60 Q1349.70 1629.20 1351.30 1625.00 Z" fill="#000" stroke="none"/>
<text x="1366.11" y="1655">7</text>
<text x="849.50" y="1702">4</text>
<text x="796.00" y="1796">3</text>
<path d="M1023.10 1890.00 H1030.10 V1920.00 H1023.10 V1897.50 Q1020.20 1900.50 1016.00 1902.30 V1896.60 Q1020.70 1894.20 1022.30 1890.00 Z" fill="#000" stroke="none"/>
<text x="1037.11" y="1920">7</text>
<text x="1459.00" y="2172">2</text>
<text x="1293.50" y="2217">5</text>
<path d="M1591.10 2225.00 H1598.10 V2255.00 H1591.10 V2232.50 Q1588.20 2235.50 1584.00 2237.30 V2231.60 Q1588.70 2229.20 1590.30 2225.00 Z" fill="#000" stroke="none"/>
</g>
<text x="44" y="2444.5" style="font-family:'Liberation Sans',sans-serif;font-weight:bold;font-size:34px;">ETN</text>
<path d="M117.83 2420.78 H123.36 V2444.50 H117.83 V2426.71 Q115.53 2429.08 112.21 2430.50 V2426.00 Q115.93 2424.10 117.20 2420.78 Z" fill="#000" stroke="none"/>
<path d="M136.73 2420.78 H142.26 V2444.50 H136.73 V2426.71 Q134.43 2429.08 131.11 2430.50 V2426.00 Q134.83 2424.10 136.10 2420.78 Z" fill="#000" stroke="none"/>
<text x="147.6" y="2444.5" textLength="95.5" lengthAdjust="spacingAndGlyphs" style="font-family:'Liberation Sans',sans-serif;font-weight:bold;font-size:34px;">5634A</text>
</svg>
</body></html>
